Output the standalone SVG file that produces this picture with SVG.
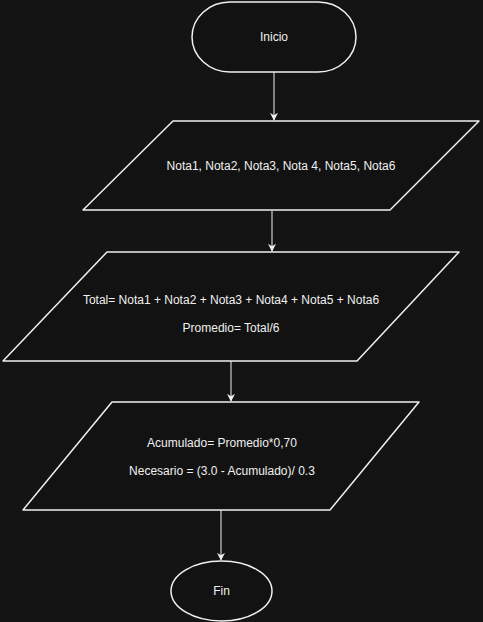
<svg xmlns="http://www.w3.org/2000/svg" width="483" height="622" viewBox="0 0 483 622">
<defs>
<style>
.shape{fill:#121212;stroke:#f0f0f0;stroke-width:1.5;stroke-linejoin:round}
.edge{fill:none;stroke:#f0f0f0;stroke-width:1}
.lbl{font-family:"Liberation Sans",Arial,sans-serif;font-size:12px;fill:#f0f0f0;text-anchor:middle;dominant-baseline:central}
</style>
<marker id="arr" viewBox="0 0 10 10" refX="9" refY="5" markerWidth="8" markerHeight="8" markerUnits="userSpaceOnUse" orient="auto">
<path d="M0,0 L10,5 L0,10 L3,5 Z" fill="#f0f0f0"/>
</marker>
</defs>
<rect width="483" height="622" fill="#141414"/>
<g id="edges">
<line class="edge" x1="274" y1="72" x2="274" y2="120" marker-end="url(#arr)"/>
<line class="edge" x1="272" y1="211" x2="272" y2="251" marker-end="url(#arr)"/>
<line class="edge" x1="231" y1="361" x2="231" y2="401" marker-end="url(#arr)"/>
<line class="edge" x1="221" y1="510" x2="221" y2="560" marker-end="url(#arr)"/>
</g>
<g id="inicio">
<rect class="shape" x="192" y="2" width="164" height="70" rx="38" ry="35"/>
<text class="lbl" x="274" y="37">Inicio</text>
</g>
<g id="entrada">
<path class="shape" d="M173,121 L479,121 L390,210 L83,210 Z"/>
<text class="lbl" x="281" y="166">Nota1, Nota2, Nota3, Nota 4, Nota5, Nota6</text>
</g>
<g id="proceso1">
<path class="shape" d="M107,252 L459,252 L357,361 L3,361 Z"/>
<text class="lbl" x="231" y="300">Total= Nota1 + Nota2 + Nota3 + Nota4 + Nota5 + Nota6</text>
<text class="lbl" x="231" y="328">Promedio= Total/6</text>
</g>
<g id="proceso2">
<path class="shape" d="M112,402 L419,402 L330,510 L23,510 Z"/>
<text class="lbl" x="222" y="443">Acumulado= Promedio*0,70</text>
<text class="lbl" x="222" y="471">Necesario = (3.0 - Acumulado)/ 0.3</text>
</g>
<g id="fin">
<ellipse class="shape" cx="221.5" cy="591" rx="50.5" ry="30"/>
<text class="lbl" x="221.5" y="591">Fin</text>
</g>
</svg>
